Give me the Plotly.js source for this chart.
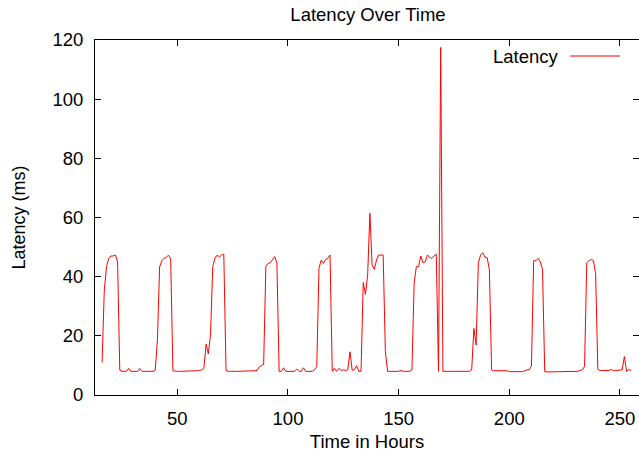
<!DOCTYPE html>
<html>
<head>
<meta charset="utf-8">
<script src="https://cdn.plot.ly/plotly-3.0.1.min.js"></script>
<style>
html,body{margin:0;padding:0;background:#fff;}
#chart{width:639px;height:452px;}
</style>
</head>
<body>
<div id="chart"></div>
<script>
// Sampling: one reading per hour, starting at hour 16
const startHour = 16;
const latency = [
  // 16-24
  11, 35.5, 43.4, 46.2, 47, 47, 47.3, 45, 8.4,
  // 25-39
  8, 8, 8, 9, 8, 8, 8, 8, 9, 8, 8, 8, 8, 8, 8,
  // 40-48
  8.3, 18.6, 43.3, 45.4, 46.2, 46.5, 47.3, 46, 8.2,
  // 49-59
  8, 8, 8, 8, 8, 8, 8, 8, 8, 8, 8.2,
  // 60-72
  8.3, 8.5, 9, 17.2, 13.9, 20.5, 43.4, 46.2, 47.3, 46.7, 47.3, 47.6, 8.3,
  // 73-85
  8, 8, 8.1, 8, 8, 8, 8, 8, 8, 8, 8, 8, 8.2,
  // 86-96
  8.3, 9.5, 10, 10.3, 43.5, 44.5, 44.7, 46, 46.8, 44.5, 8,
  // 97-112
  8, 9.2, 8, 8, 8, 8, 8, 8.8, 8, 8, 9.2, 8, 8, 8, 8, 8.5,
  // 113-120
  9.6, 42.8, 45.6, 44.5, 45.8, 46.2, 47.3, 8,
  // 121-133
  9, 8, 9, 8.3, 8.5, 8.3, 8.5, 14.6, 8.4, 8.5, 9.9, 8, 8,
  // 134-145
  38, 34, 40.6, 61.4, 44, 42.5, 45.6, 47.3, 47.3, 47.3, 14.6, 8,
  // 146-156
  8, 8, 8, 8, 8, 8.3, 8, 8, 8, 8, 8.5,
  // 157-170
  37.8, 43.4, 43.4, 47, 44.7, 45, 47.3, 46.6, 46.2, 47, 47.6, 8, 117.5, 8,
  // 171-183
  8, 8, 8, 8, 8, 8, 8, 8, 8, 8, 8, 8, 8.5,
  // 184-192
  22.5, 16.9, 44.5, 47.3, 48.1, 46.6, 46.4, 42.3, 8.5,
  // 193-210
  8.2, 8.2, 8.2, 8.2, 8.2, 8.2, 8.2, 7.9, 7.9, 7.9, 7.9, 7.9, 7.9, 7.9, 8.2, 8.5, 8.5, 9.8,
  // 211-216
  45.4, 45.4, 46.2, 45, 42.5, 7.9,
  // 217-234
  7.8, 7.8, 7.8, 7.8, 7.8, 7.8, 7.8, 7.8, 7.8, 7.8, 7.8, 7.8, 7.8, 7.8, 8, 8.3, 8.5, 9.6,
  // 235-240
  44.7, 45.4, 45.8, 45.5, 41, 8.7,
  // 241-255
  8.3, 8.3, 8.3, 8.3, 8.3, 8.6, 8.3, 8.3, 8.3, 8.3, 8.5, 13, 8, 8.6, 8.3
];
const hours = latency.map((_, i) => startHour + i);

const xTicks = [50, 100, 150, 200, 250];
const yTicks = [0, 20, 40, 60, 80, 100, 120];
const seriesName = 'Latency';

const FONT = 'Liberation Sans, Arial, Helvetica, sans-serif';
const FS = 18.5;

const trace = {
  x: hours,
  y: latency,
  type: 'scatter',
  mode: 'lines',
  name: seriesName,
  line: {color: '#ff0000', width: 1},
  showlegend: false,
  hoverinfo: 'x+y'
};

const layout = {
  width: 639,
  height: 452,
  margin: {l: 95, r: 0, t: 40, b: 57, pad: 0},
  paper_bgcolor: '#ffffff',
  plot_bgcolor: '#ffffff',
  font: {family: FONT, size: FS, color: '#000000'},
  title: {
    text: 'Latency Over Time',
    font: {family: FONT, size: FS, color: '#000000'},
    x: 368 / 639, xref: 'container', xanchor: 'center',
    y: 1 - 15/452, yref: 'container', yanchor: 'middle'
  },
  xaxis: {
    range: [12.8, 258.6],
    tickvals: xTicks,
    ticktext: xTicks.map(String),
    ticks: 'inside',
    ticklen: 6,
    tickwidth: 1,
    tickcolor: '#000000',
    showline: true,
    linecolor: '#000000',
    linewidth: 1,
    mirror: 'ticks',
    showgrid: false,
    zeroline: false,
    ticklabelstandoff: 7,
    tickfont: {family: FONT, size: FS, color: '#000000'},
    title: {text: 'Time in Hours', font: {family: FONT, size: FS, color: '#000000'}, standoff: 6}
  },
  yaxis: {
    range: [0, 120],
    tickvals: yTicks,
    ticktext: yTicks.map(String),
    ticks: 'inside',
    ticklen: 6,
    tickwidth: 1,
    tickcolor: '#000000',
    showline: true,
    linecolor: '#000000',
    linewidth: 1,
    mirror: 'ticks',
    showgrid: false,
    zeroline: false,
    ticklabelstandoff: 7,
    tickfont: {family: FONT, size: FS, color: '#000000'},
    title: {text: 'Latency (ms)', font: {family: FONT, size: 18, color: '#000000'}, standoff: 22}
  },
  annotations: [{
    text: seriesName,
    xref: 'paper', yref: 'paper',
    x: (561 - 95) / 544, y: (395 - 56) / 355,
    xanchor: 'right', yanchor: 'middle',
    showarrow: false,
    font: {family: FONT, size: FS, color: '#000000'}
  }],
  shapes: [{
    type: 'line',
    xref: 'paper', yref: 'paper',
    x0: (570 - 95) / 544, x1: (620 - 95) / 544,
    y0: (395 - 56) / 355, y1: (395 - 56) / 355,
    line: {color: '#ff0000', width: 1}
  }]
};

Plotly.newPlot('chart', [trace], layout, {displayModeBar: false, staticPlot: true});
</script>
</body>
</html>
